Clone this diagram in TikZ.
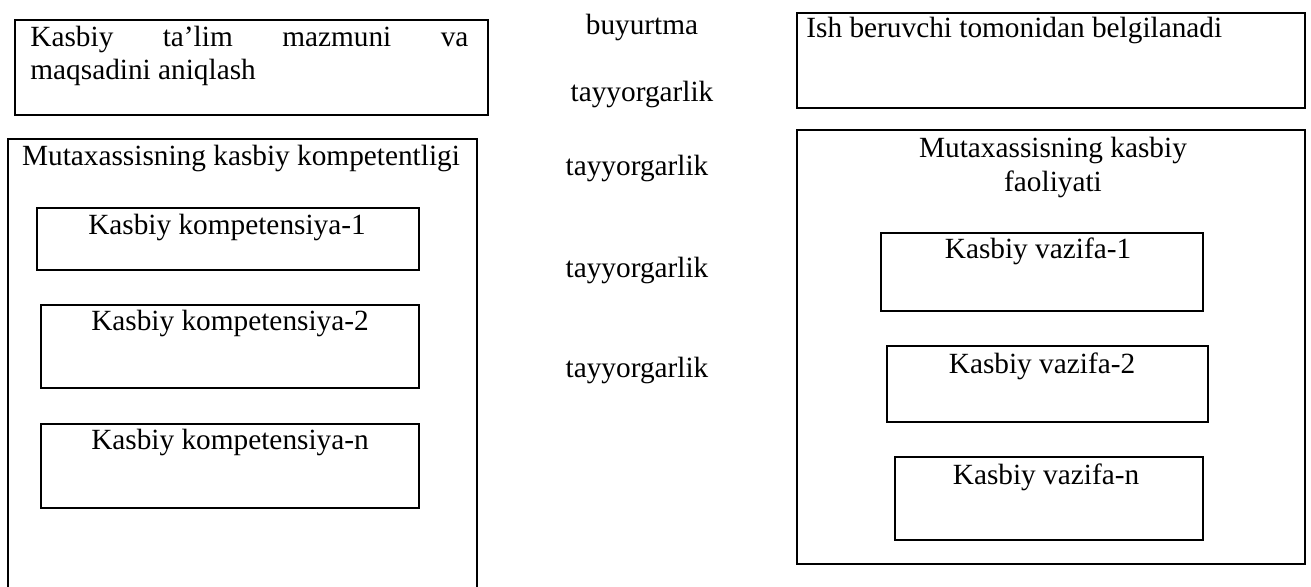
\documentclass[tikz,border=0pt]{standalone}
\usepackage{fontspec}
\setmainfont{Liberation Serif}
\usetikzlibrary{fit}
\begin{document}
\begin{tikzpicture}[x=0.5pt,y=-0.5pt,
  box/.style={draw=black, line width=1pt, inner sep=0pt, rectangle},
  txt/.style={inner sep=0pt, font=\fontsize{14.65}{17}\selectfont, anchor=base},
  txtl/.style={txt, anchor=base west}]
\useasboundingbox (0,0) rectangle (1311,587);
\clip (0,0) rectangle (1311,587);
% top-left box
\node[box, fit={(15,20) (488,115)}] (A) {};
\node[txtl] (A1) at (30,47) {\makebox[219pt][s]{Kasbiy ta’lim mazmuni va}};
\node[txtl] (A2) at (30,80) {maqsadini aniqlash};
% middle labels
\node[txt] (m1) at (642,35) {buyurtma};
\node[txt] (m2) at (642,102) {tayyorgarlik};
\node[txt] (m3) at (637,176) {tayyorgarlik};
\node[txt] (m4) at (637,278) {tayyorgarlik};
\node[txt] (m5) at (637,378) {tayyorgarlik};
% top-right box
\node[box, fit={(797,13) (1305,108)}] (B) {};
\node[txtl] (B1) at (806,38) {Ish beruvchi tomonidan belgilanadi};
% left big box
\node[box, fit={(8,139) (477,600)}] (C) {};
\node[txt] (C1) at (241,166) {Mutaxassisning kasbiy kompetentligi};
\node[box, fit={(37,208) (419,270)}] (k1) {};
\node[txt] (k1t) at (227,235) {Kasbiy kompetensiya-1};
\node[box, fit={(41,305) (419,388)}] (k2) {};
\node[txt] (k2t) at (230,331) {Kasbiy kompetensiya-2};
\node[box, fit={(41,424) (419,508)}] (kn) {};
\node[txt] (knt) at (230,450) {Kasbiy kompetensiya-n};
% right big box
\node[box, fit={(797,130) (1305,564)}] (D) {};
\node[txt] (D1) at (1053,158) {Mutaxassisning kasbiy};
\node[txt] (D2) at (1053,192) {faoliyati};
\node[box, fit={(881,233) (1203,311)}] (v1) {};
\node[txt] (v1t) at (1038,259) {Kasbiy vazifa-1};
\node[box, fit={(887,346) (1208,422)}] (v2) {};
\node[txt] (v2t) at (1042,373) {Kasbiy vazifa-2};
\node[box, fit={(895,457) (1203,540)}] (vn) {};
\node[txt] (vnt) at (1046,484) {Kasbiy vazifa-n};
\end{tikzpicture}
\end{document}
